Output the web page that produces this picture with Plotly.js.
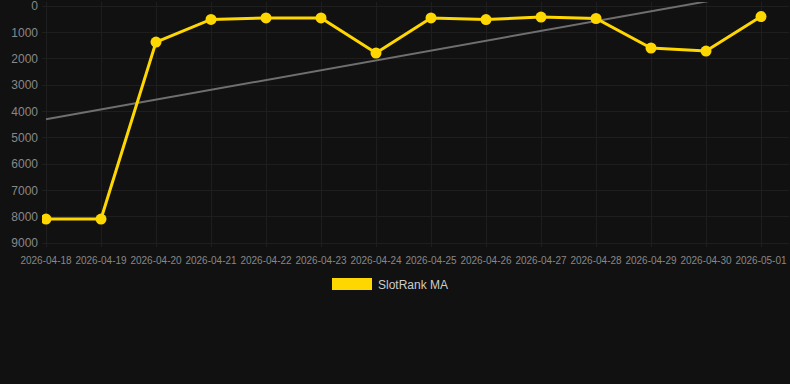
<!DOCTYPE html>
<html>
<head>
<meta charset="utf-8">
<script src="https://cdn.plot.ly/plotly-3.0.1.min.js"></script>
<style>
html,body{margin:0;padding:0;background:#111111;}
#chart{width:790px;height:384px;}
</style>
</head>
<body>
<div id="chart"></div>
<script>
var dates = ['2026-04-18','2026-04-19','2026-04-20','2026-04-21','2026-04-22','2026-04-23','2026-04-24','2026-04-25','2026-04-26','2026-04-27','2026-04-28','2026-04-29','2026-04-30','2026-05-01'];
var slotRankMA = [8090, 8090, 1370, 510, 455, 455, 1785, 455, 515, 420, 475, 1595, 1710, 400];
var yTicks = [0,1000,2000,3000,4000,5000,6000,7000,8000,9000];

// least-squares trend of the series
var n = slotRankMA.length, sx=0, sy=0, sxy=0, sxx=0;
for (var i=0;i<n;i++){ sx+=i; sy+=slotRankMA[i]; sxy+=i*slotRankMA[i]; sxx+=i*i; }
var slope = (n*sxy - sx*sy)/(n*sxx - sx*sx);
var intercept = (sy - slope*sx)/n;
var trend = dates.map(function(d,i){ return intercept + slope*i; });

var traces = [
  {x: dates, y: trend, type:'scatter', mode:'lines', line:{color:'#6f6f6f', width:2}, hoverinfo:'skip', showlegend:false},
  {x: dates, y: slotRankMA, type:'scatter', mode:'lines+markers', name:'SlotRank MA',
   line:{color:'#FFD700', width:3}, marker:{color:'#FFD700', size:11}, showlegend:false}
];

var T = 2, B = 247, L = 42, R = 789;
var layout = {
  width:790, height:384,
  paper_bgcolor:'#111111', plot_bgcolor:'#111111',
  margin:{l:L, r:790-R, t:T, b:384-B},
  font:{family:'Liberation Sans, Arial, sans-serif', color:'#888888'},
  showlegend:false,
  xaxis:{type:'date', range:['2026-04-17 22:15','2026-05-01 12:13'],
    tickvals: dates, ticktext: dates, tickfont:{size:10, color:'#888888'}, ticklabelstandoff:6,
    showgrid:true, gridcolor:'#1e1e1e', gridwidth:1, zeroline:false, showline:false, ticks:'', fixedrange:true},
  yaxis:{range:[9152,-152], tickvals:yTicks, ticktext: yTicks.map(String), ticklabelstandoff:3,
    tickfont:{size:12, color:'#888888'}, showgrid:true, gridcolor:'#1e1e1e', gridwidth:1,
    zeroline:false, showline:false, ticks:'', fixedrange:true, ticklabeloverflow:'allow'},
  shapes:[{type:'rect', xref:'paper', yref:'paper', x0:(332-L)/(R-L), x1:(372-L)/(R-L),
    y0:(B-290)/(B-T), y1:(B-278)/(B-T), fillcolor:'#FFD700', line:{width:0}}],
  annotations:[{xref:'paper', yref:'paper', x:(376-L)/(R-L), y:(B-284.5)/(B-T), xanchor:'left', yanchor:'middle',
    text:'SlotRank MA', showarrow:false, font:{size:12, color:'#cccccc'}}]
};
Plotly.newPlot('chart', traces, layout, {displayModeBar:false, staticPlot:true});
</script>
</body>
</html>
